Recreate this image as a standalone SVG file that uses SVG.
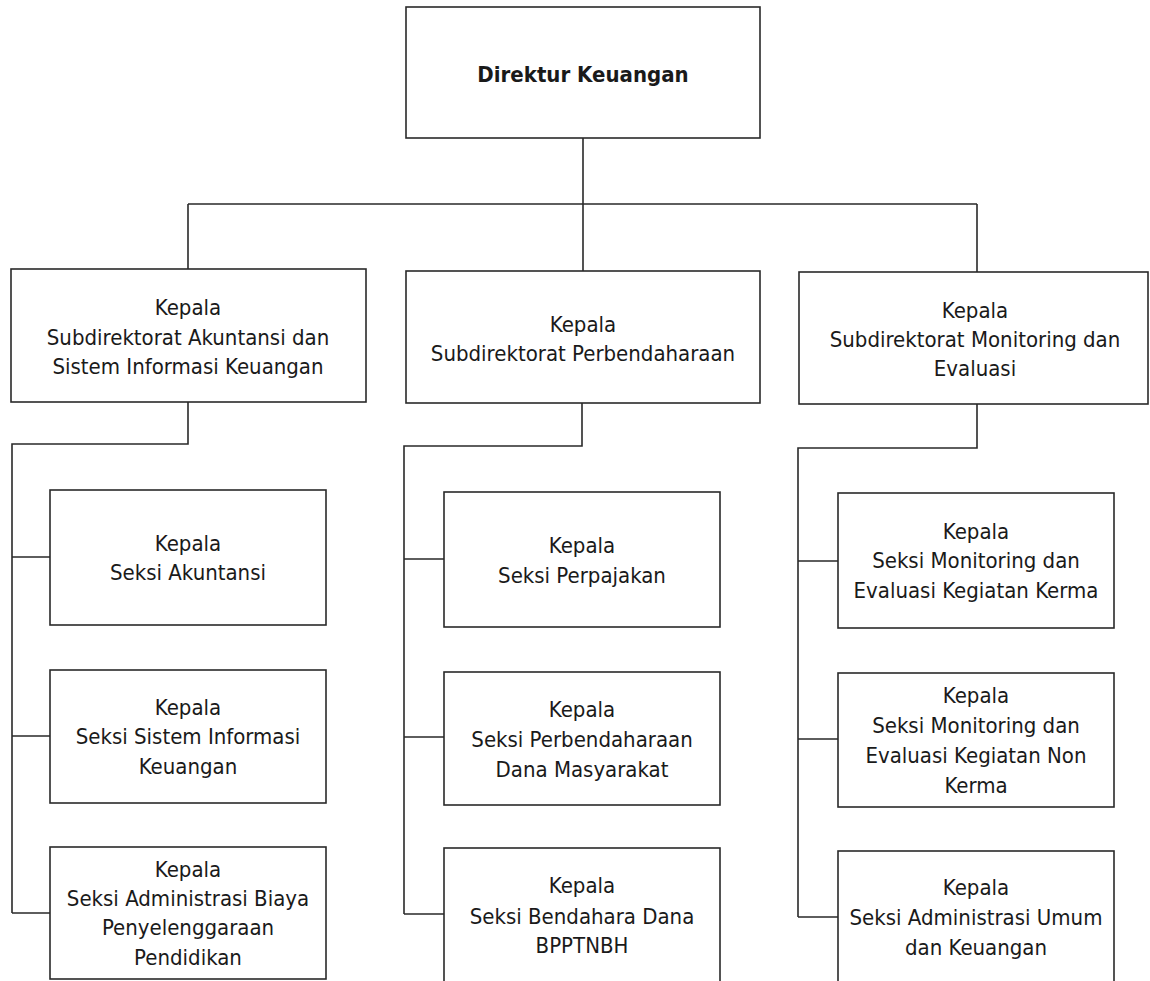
<svg xmlns="http://www.w3.org/2000/svg" width="1150" height="981" viewBox="0 0 1150 981">
  <style>
    .box { fill: #ffffff; stroke: #2a2a2a; stroke-width: 1.6; }
    .link { fill: none; stroke: #2a2a2a; stroke-width: 1.6; }
    text { font-family: "DejaVu Sans Condensed", "DejaVu Sans", sans-serif; font-stretch: condensed; font-size: 22px; fill: #1a1a1a; text-anchor: middle; }
    .title { font-weight: bold; font-size: 22px; }
  </style>
  <rect width="1150" height="981" fill="#ffffff"/>

  <!-- connectors -->
  <g id="connectors">
    <path class="link" d="M583 138 V204 M188 204 H977 M188 204 V269 M583 204 V271 M977 204 V272"/>
    <path class="link" d="M188 402 V444 H12 V913 M12 557 H50 M12 736 H50 M12 913 H50"/>
    <path class="link" d="M582 403 V446 H404 V914 M404 559 H444 M404 737 H444 M404 914 H444"/>
    <path class="link" d="M977 404 V448 H798 V917 M798 561 H838 M798 739 H838 M798 917 H838"/>
  </g>

  <!-- director -->
  <g id="direktur">
    <rect class="box" x="406" y="7" width="354" height="131"/>
    <text class="title" x="583" y="82">Direktur Keuangan</text>
  </g>

  <!-- sub-directorates -->
  <g id="subdit-akuntansi">
    <rect class="box" x="11" y="269" width="355" height="133"/>
    <text x="188" y="315">Kepala</text>
    <text x="188" y="345">Subdirektorat Akuntansi dan</text>
    <text x="188" y="374">Sistem Informasi Keuangan</text>
  </g>
  <g id="subdit-perbendaharaan">
    <rect class="box" x="406" y="271" width="354" height="132"/>
    <text x="583" y="332">Kepala</text>
    <text x="583" y="361">Subdirektorat Perbendaharaan</text>
  </g>
  <g id="subdit-monev">
    <rect class="box" x="799" y="272" width="349" height="132"/>
    <text x="975" y="318">Kepala</text>
    <text x="975" y="347">Subdirektorat Monitoring dan</text>
    <text x="975" y="376">Evaluasi</text>
  </g>

  <!-- sections: accounting -->
  <g id="seksi-akuntansi">
    <rect class="box" x="50" y="490" width="276" height="135"/>
    <text x="188" y="551">Kepala</text>
    <text x="188" y="580">Seksi Akuntansi</text>
  </g>
  <g id="seksi-sik">
    <rect class="box" x="50" y="670" width="276" height="133"/>
    <text x="188" y="715">Kepala</text>
    <text x="188" y="744">Seksi Sistem Informasi</text>
    <text x="188" y="774">Keuangan</text>
  </g>
  <g id="seksi-abpp">
    <rect class="box" x="50" y="847" width="276" height="132"/>
    <text x="188" y="877">Kepala</text>
    <text x="188" y="906">Seksi Administrasi Biaya</text>
    <text x="188" y="935">Penyelenggaraan</text>
    <text x="188" y="965">Pendidikan</text>
  </g>

  <!-- sections: treasury -->
  <g id="seksi-perpajakan">
    <rect class="box" x="444" y="492" width="276" height="135"/>
    <text x="582" y="553">Kepala</text>
    <text x="582" y="583">Seksi Perpajakan</text>
  </g>
  <g id="seksi-dana-masyarakat">
    <rect class="box" x="444" y="672" width="276" height="133"/>
    <text x="582" y="717">Kepala</text>
    <text x="582" y="747">Seksi Perbendaharaan</text>
    <text x="582" y="777">Dana Masyarakat</text>
  </g>
  <g id="seksi-bpptnbh">
    <rect class="box" x="444" y="848" width="276" height="140"/>
    <text x="582" y="893">Kepala</text>
    <text x="582" y="924">Seksi Bendahara Dana</text>
    <text x="582" y="953">BPPTNBH</text>
  </g>

  <!-- sections: monitoring & evaluation -->
  <g id="seksi-monev-kerma">
    <rect class="box" x="838" y="493" width="276" height="135"/>
    <text x="976" y="539">Kepala</text>
    <text x="976" y="568">Seksi Monitoring dan</text>
    <text x="976" y="598">Evaluasi Kegiatan Kerma</text>
  </g>
  <g id="seksi-monev-nonkerma">
    <rect class="box" x="838" y="673" width="276" height="134"/>
    <text x="976" y="703">Kepala</text>
    <text x="976" y="733">Seksi Monitoring dan</text>
    <text x="976" y="763">Evaluasi Kegiatan Non</text>
    <text x="976" y="793">Kerma</text>
  </g>
  <g id="seksi-administrasi-umum">
    <rect class="box" x="838" y="851" width="276" height="140"/>
    <text x="976" y="895">Kepala</text>
    <text x="976" y="925">Seksi Administrasi Umum</text>
    <text x="976" y="955">dan Keuangan</text>
  </g>
</svg>
